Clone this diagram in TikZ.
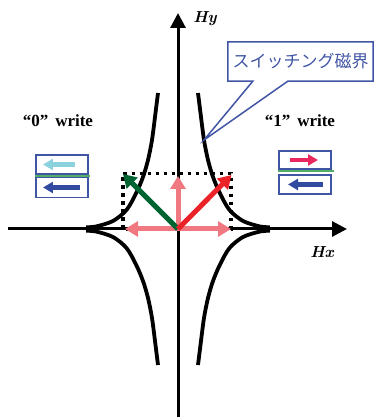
\documentclass[tikz,border=0pt]{standalone}
\usepackage{fontspec}
\newfontfamily\jpfont{Noto Sans CJK JP}
\newfontfamily\labelfont{Liberation Serif}
\usepackage{tikz}
\usetikzlibrary{arrows.meta}
\usepackage{xcolor}
\definecolor{swblue}{RGB}{65,85,165}
\definecolor{swpink}{RGB}{240,120,128}
\definecolor{swgreen}{RGB}{0,100,50}
\definecolor{swred}{RGB}{235,35,40}
\definecolor{layergreen}{RGB}{80,175,100}
\definecolor{layercyan}{RGB}{140,210,222}
\definecolor{layerblue}{RGB}{50,75,160}
\definecolor{layerred}{RGB}{232,40,95}

\tikzset{
  axis/.style={line width=3pt,-{Triangle[length=15pt,width=15pt]}},
  axislabel/.style={font=\fontsize{16}{18}\selectfont\bfseries\itshape},
  astroid/.style={line width=3.8pt},
  dotbox/.style={line width=3.2pt,dash pattern=on 3.5pt off 4.5pt},
  field/.style={line width=5pt,-{Triangle[length=13pt,width=15pt]}},
  layer/.style={draw=swblue,line width=1.5pt,minimum width=52pt,minimum height=19pt,inner sep=0pt},
  spacer/.style={layergreen,line width=2pt},
  moment/.style={line width=4.5pt,-{Triangle[length=10pt,width=11pt]}},
  writelabel/.style={font=\labelfont\fontsize{17}{19}\selectfont\bfseries},
}

\begin{document}
\begin{tikzpicture}[x=10pt,y=10pt,>=Stealth]
    \useasboundingbox (-17.8,-18.8) rectangle (19.6,22.9);

    % Axes
    \coordinate (O) at (0,0);
    \coordinate (xs) at (-17.0,0);
    \coordinate (xe) at (16.9,0);
    \coordinate (ys) at (0,-18.8);
    \coordinate (ye) at (0,21.6);
    \draw[axis] (xs) -- (xe);
    \draw[axis] (ys) -- (ye);
    \node[axislabel] (hy) at (2.7,21.0) {Hy};
    \node[axislabel] (hx) at (14.4,-2.3) {Hx};

    % Switching curve
    \foreach \sx in {1,-1}
      \foreach \sy in {1,-1}
        \draw[astroid,xscale=\sx,yscale=\sy] plot[smooth] coordinates
          {(9.2,0.18) (8.2,0.25) (6.5,0.8) (5.15,1.9) (4.2,3.55) (3.5,5.2)
           (3.0,6.9) (2.6,8.9) (2.25,11.6) (2.0,13.6)};

    % Field box
    \draw[dotbox] (-5.5,0) rectangle (5.3,5.55);

    % Applied fields
    \coordinate (hl) at (-5.3,0);
    \coordinate (hr) at (5.3,0);
    \coordinate (hu) at (0,5.3);
    \coordinate (mg) at (-5.5,5.5);
    \coordinate (mr) at (5.35,5.4);
    \draw[field,swpink] (O) -- (hl);
    \draw[field,swpink] (O) -- (hr);
    \draw[field,swpink] (O) -- (hu);
    \draw[field,swgreen] (O) -- (mg);
    \draw[field,swred] (O) -- (mr);

    % "0" write
    \node[writelabel] (w0) at (-12.0,10.8) {“0”\hspace{0.4em}write};
    \node[layer] (l0top) at (-11.6,6.45) {};
    \node[layer,minimum height=20pt] (l0bot) at (-11.6,4.15) {};
    \draw[spacer] ([yshift=-1.5pt]l0top.south west) -- ([xshift=1pt,yshift=-1.5pt]l0top.south east);
    \draw[moment,layercyan] ([xshift=13pt]l0top.center) -- ([xshift=-19pt]l0top.center);
    \draw[moment,layerblue] ([xshift=18pt]l0bot.center) -- ([xshift=-19pt]l0bot.center);

    % "1" write
    \node[writelabel] (w1) at (12.2,10.8) {“1”\hspace{0.4em}write};
    \node[layer,minimum height=18pt] (l1top) at (12.7,6.9) {};
    \node[layer] (l1bot) at (12.7,4.45) {};
    \draw[spacer] ([yshift=-1.5pt]l1top.south west) -- ([xshift=2pt,yshift=-1.5pt]l1top.south east);
    \draw[moment,layerred] ([xshift=-15pt]l1top.center) -- ([xshift=13pt]l1top.center);
    \draw[moment,layerblue] ([xshift=18pt]l1bot.center) -- ([xshift=-17pt]l1bot.center);

    % Callout
    \coordinate (tip) at (2.6,8.9);
    \node[text=swblue,font=\jpfont\fontsize{17}{19}\selectfont,
          minimum width=145pt,minimum height=39pt,inner sep=0pt] (sw) at (12.25,16.75) {スイッチング磁界};
    \draw[swblue,line width=1.5pt,line join=miter] (sw.south west) -- ([xshift=25pt]sw.south west) -- (tip)
        -- ([xshift=60pt]sw.south west) -- (sw.south east) -- (sw.north east) -- (sw.north west) -- cycle;
\end{tikzpicture}
\end{document}
